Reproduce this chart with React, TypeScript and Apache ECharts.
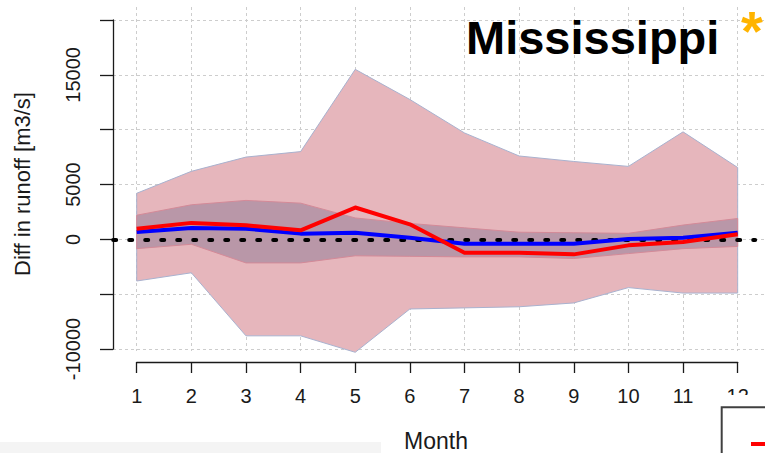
import React, { useEffect, useRef } from "react";
import * as echarts from "echarts";

// Monthly difference in runoff [m3/s]
const MONTHS = [1, 2, 3, 4, 5, 6, 7, 8, 9, 10, 11, 12];
const OUTER_UPPER = [4200, 6200, 7500, 8000, 15500, 12750, 9700, 7600, 7100, 6650, 9800, 6550];
const OUTER_LOWER = [-3800, -3050, -8800, -8800, -10300, -6350, -6250, -6150, -5800, -4400, -4900, -4900];
const INNER_UPPER = [2200, 3150, 3550, 3300, 1950, 1450, 1050, 650, 600, 550, 1300, 1900];
const INNER_LOWER = [-850, -450, -2150, -2150, -1500, -1550, -1600, -1600, -1750, -1300, -850, -650];
const RED_LINE = [970, 1500, 1280, 820, 2900, 1370, -1220, -1220, -1370, -550, -250, 460];
const BLUE_LINE = [670, 1030, 970, 520, 600, 150, -400, -400, -400, 30, 150, 600];
const Y_LABELS_SHOWN = [-10000, 0, 5000, 15000];

const FONT = "'Liberation Sans', Arial, sans-serif";
const GRID_LINE = { color: "#cdcdcd", type: [3, 3] as number[], width: 1 };

function bandSeries(upper: number[], lower: number[], fill: string, stroke: string, z: number) {
  return {
    type: "custom",
    xAxisIndex: 0,
    yAxisIndex: 0,
    silent: true,
    z,
    data: [[MONTHS[0], 0]],
    renderItem: (_params: any, api: any) => {
      const pts: number[][] = [];
      MONTHS.forEach((m, i) => pts.push(api.coord([m, upper[i]])));
      for (let i = MONTHS.length - 1; i >= 0; i--) pts.push(api.coord([MONTHS[i], lower[i]]));
      return {
        type: "polygon",
        shape: { points: pts },
        style: { fill, stroke, lineWidth: 1 },
      };
    },
  };
}

function lineSeries(values: number[], color: string, z: number) {
  return {
    type: "line",
    xAxisIndex: 0,
    yAxisIndex: 0,
    z,
    symbol: "none",
    data: MONTHS.map((m, i) => [m, values[i]]),
    lineStyle: { color, width: 4, join: "round" },
  };
}

export default function App() {
  const ref = useRef<HTMLDivElement>(null);

  useEffect(() => {
    if (!ref.current) return;
    const chart = echarts.init(ref.current, null, { renderer: "svg" });
    chart.setOption({
      animation: false,
      backgroundColor: "#ffffff",
      grid: [
        { left: 113, top: 20, width: 652, height: 329 },
        { left: 136.7, top: 7, width: 601, height: 344 },
      ],
      xAxis: [
        { type: "value", gridIndex: 0, min: 0.566, max: 12.5, show: false },
        {
          type: "value",
          gridIndex: 1,
          min: 1,
          max: 12,
          interval: 1,
          position: "bottom",
          offset: 11,
          axisLine: { show: true, onZero: false, lineStyle: { color: "#1a1a1a", width: 1.3 } },
          axisTick: { show: true, length: 11, lineStyle: { color: "#1a1a1a", width: 1.3 } },
          axisLabel: { fontSize: 20, fontFamily: FONT, color: "#1a1a1a", margin: 24 },
          splitLine: { show: true, lineStyle: GRID_LINE },
        },
      ],
      yAxis: [
        {
          type: "value",
          gridIndex: 0,
          min: -10000,
          max: 20000,
          interval: 5000,
          axisLine: { show: true, onZero: false, lineStyle: { color: "#1a1a1a", width: 1.3 } },
          axisTick: { show: true, length: 13, lineStyle: { color: "#1a1a1a", width: 1.3 } },
          axisLabel: {
            rotate: 90,
            fontSize: 20,
            fontFamily: FONT,
            color: "#1a1a1a",
            margin: 30,
            formatter: (v: number) => (Y_LABELS_SHOWN.includes(v) ? String(v) : ""),
          },
          splitLine: { show: true, lineStyle: GRID_LINE },
        },
        { type: "value", gridIndex: 1, show: false, min: -10000, max: 20000 },
      ],
      series: [
        bandSeries(OUTER_UPPER, OUTER_LOWER, "#e6b6bc", "#a9b2cf", 2),
        bandSeries(INNER_UPPER, INNER_LOWER, "#b997a8", "#d48a98", 3),
        {
          type: "line",
          xAxisIndex: 0,
          yAxisIndex: 0,
          z: 4,
          symbol: "none",
          data: [],
          markLine: {
            silent: true,
            symbol: "none",
            label: { show: false },
            lineStyle: { color: "#000000", width: 4, type: [3, 13], cap: "round" },
            data: [[{ coord: [0.57, 0] }, { coord: [12.32, 0] }]],
          },
        },
        lineSeries(BLUE_LINE, "#0000ff", 5),
        lineSeries(RED_LINE, "#ff0000", 6),
      ],
      graphic: [
        {
          type: "text",
          x: 466,
          y: 37,
          z: 50,
          style: {
            text: "Mississippi",
            font: `bold 47px ${FONT}`,
            fill: "#000000",
            align: "left",
            verticalAlign: "middle",
          },
        },
        {
          type: "text",
          x: 752,
          y: 30,
          z: 50,
          style: {
            text: "*",
            font: `bold 56px ${FONT}`,
            fill: "#ffb400",
            align: "center",
            verticalAlign: "middle",
          },
        },
        {
          type: "text",
          x: 22,
          y: 184,
          rotation: Math.PI / 2,
          z: 50,
          style: {
            text: "Diff in runoff [m3/s]",
            font: `22px ${FONT}`,
            fill: "#1a1a1a",
            align: "center",
            verticalAlign: "middle",
          },
        },
        {
          type: "text",
          x: 436,
          y: 441,
          z: 50,
          style: {
            text: "Month",
            font: `23px ${FONT}`,
            fill: "#1a1a1a",
            align: "center",
            verticalAlign: "middle",
          },
        },
        {
          type: "rect",
          z: 50,
          shape: { x: 0, y: 442, width: 381, height: 12 },
          style: { fill: "#f4f4f4" },
        },
        {
          type: "rect",
          z: 100,
          shape: { x: 716, y: 395, width: 60, height: 60 },
          style: { fill: "#ffffff" },
        },
        {
          type: "rect",
          z: 101,
          shape: { x: 721.7, y: 407.3, width: 80, height: 80 },
          style: { fill: "#ffffff", stroke: "#404040", lineWidth: 2 },
        },
        {
          type: "line",
          z: 102,
          shape: { x1: 751, y1: 444, x2: 770, y2: 444 },
          style: { stroke: "#ff0000", lineWidth: 4 },
        },
      ],
    });
    return () => chart.dispose();
  }, []);

  return (
    <div
      ref={ref}
      style={{ position: "absolute", left: 0, top: 0, width: 765, height: 453, background: "#ffffff" }}
    />
  );
}
